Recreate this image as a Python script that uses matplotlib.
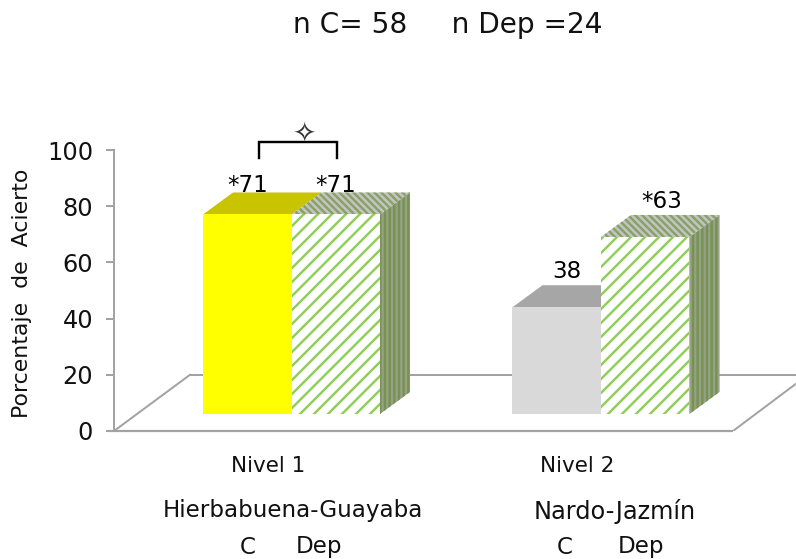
import matplotlib
matplotlib.use('Agg')
import matplotlib.pyplot as plt
from matplotlib.patches import Polygon

DPI = 84  # picked so the hatch stripes come out about 14 px apart
PT = 72 / DPI  # one pixel in points

plt.rcParams['font.family'] = ['DejaVu Sans']
plt.rcParams['hatch.linewidth'] = 2.1

# data
groups = [0, 1]
level_labels = ['Nivel 1', 'Nivel 2']
pair_labels = ['Hierbabuena-Guayaba', 'Nardo-Jazmín']
control_values = [71, 38]
dep_values = [71, 63]
control_labels = ['*71', '38']
dep_labels = ['*71', '*63']
control_colors = ['#ffff00', '#d9d9d9']
control_top_colors = ['#c8c400', '#a6a6a6']
yticks = [0, 20, 40, 60, 80, 100]

W, H = 797, 559
GREEN = '#8fcf55'
GREY = '#a3a3a3'

# 3d box geometry, in data units
bar_w = 88.5 / 309.5
depth_x = 30 / 309.5
depth_y = 22 / 2.81
base = 17 / 2.81
floor_x = 76 / 309.5
floor_y = 20

fig = plt.figure(figsize=(W / DPI, H / DPI), dpi=DPI, facecolor='white')
ax = fig.add_axes([114 / W, 1 - 431 / H, (W - 114) / W, 281 / H])
ax.set_xlim((114 - 291.5) / 309.5, (W - 291.5) / 309.5)
ax.set_ylim(0, 100)
ax.patch.set_alpha(0)

for s in ['top', 'right', 'bottom']:
    ax.spines[s].set_visible(False)
ax.spines['left'].set_color(GREY)
ax.spines['left'].set_linewidth(2 * PT)
ax.set_xticks([])
ax.set_yticks(yticks)
ax.tick_params(axis='y', length=8 * PT, width=2 * PT, color=GREY, labelsize=24 * PT, pad=13 * PT,
               labelcolor='#111111')

# floor
x0 = ax.get_xlim()[0]
x_front = (733 - 291.5) / 309.5
x_right = ax.get_xlim()[1]
ax.plot([x0 - 0.02, x_front], [0, 0], color=GREY, lw=2.2 * PT, clip_on=False, zorder=1, solid_capstyle='butt')
ax.plot([x0, x0 + floor_x], [0, floor_y], color=GREY, lw=2 * PT, zorder=1)
ax.plot([x0 + floor_x, x_right], [floor_y, floor_y], color=GREY, lw=2 * PT, zorder=1)
ax.plot([x_front, x_front + 64 / 309.5], [0, 64 * 0.75 / 2.81], color=GREY, lw=2 * PT, zorder=1)


def top_face(left, value):
    top = base + value
    return [(left, top), (left + bar_w, top),
            (left + bar_w + depth_x, top + depth_y), (left + depth_x, top + depth_y)]


def side_face(left, value):
    right = left + bar_w
    return [(right, base), (right + depth_x, base + depth_y),
            (right + depth_x, base + value + depth_y), (right, base + value)]


for g, cv, dv, cc, ctc in zip(groups, control_values, dep_values, control_colors, control_top_colors):
    offs = g - bar_w
    ax.add_patch(Polygon(top_face(offs, cv), facecolor=ctc, edgecolor='none', zorder=2))
    ax.bar(offs, cv, bottom=base, width=bar_w, align='edge', color=cc, linewidth=0, zorder=3)

    ax.add_patch(Polygon(side_face(g, dv), facecolor='#98a08a', edgecolor='#76944f',
                         hatch='|||', linewidth=0, zorder=4))
    ax.add_patch(Polygon(top_face(g, dv), facecolor='#c4c4c4', edgecolor='#88a266',
                         hatch='\\\\\\\\', linewidth=0, zorder=4))
    ax.bar(g, dv, bottom=base, width=bar_w, align='edge', color='white', edgecolor=GREEN,
           hatch='//', linewidth=0, zorder=5)

# value labels, offsets in pixels from the back edge of each box
LABEL_SIZE = 23 * PT
ax.annotate(control_labels[0], (groups[0] - bar_w / 2, base + control_values[0] + depth_y),
            xytext=(0, 7 * PT), textcoords='offset points', ha='center', va='center', fontsize=LABEL_SIZE, zorder=6)
ax.annotate(dep_labels[0], (groups[0] + bar_w / 2, base + dep_values[0] + depth_y),
            xytext=(0, 7 * PT), textcoords='offset points', ha='center', va='center', fontsize=LABEL_SIZE, zorder=6)
ax.annotate(control_labels[1], (groups[1] - bar_w / 2, base + control_values[1] + depth_y),
            xytext=(10 * PT, 14 * PT), textcoords='offset points', ha='center', va='center', fontsize=LABEL_SIZE, zorder=6)
ax.annotate(dep_labels[1], (groups[1] + bar_w / 2, base + dep_values[1] + depth_y),
            xytext=(16 * PT, 13 * PT), textcoords='offset points', ha='center', va='center', fontsize=LABEL_SIZE, zorder=6)

# significance bracket
bx = [(259 - 291.5) / 309.5, (337 - 291.5) / 309.5]
ax.plot([bx[0], bx[0], bx[1], bx[1]], [97.2, 102.9, 102.9, 97.2], color='black', lw=2.4 * PT,
        clip_on=False, solid_joinstyle='miter', zorder=6)
fig.text(304.5 / W, 1 - 133 / H, '\u2727', family='DejaVu Sans', fontsize=28 * PT, ha='center', va='center',
         color='#333333')


def px_text(x, y, s, size=19, **kw):
    fig.text(x / W, 1 - y / H, s, fontsize=size * PT, ha='center', va='center', color='#111111', **kw)


px_text(448, 25, 'n C= 58     n Dep =24', size=28)
px_text(22, 293, 'Porcentaje  de  Acierto', size=22, rotation=90)

for lbl, x in zip(level_labels, [268, 577]):
    px_text(x, 466, lbl, size=21.5)
px_text(293, 511, pair_labels[0], size=23)
px_text(615, 511, pair_labels[1], size=24)
for x_c, x_d in [(248, 319), (565, 641)]:
    px_text(x_c, 547, 'C', size=23)
    px_text(x_d, 547, 'Dep', size=23)

fig.savefig('out.png', dpi=DPI)
